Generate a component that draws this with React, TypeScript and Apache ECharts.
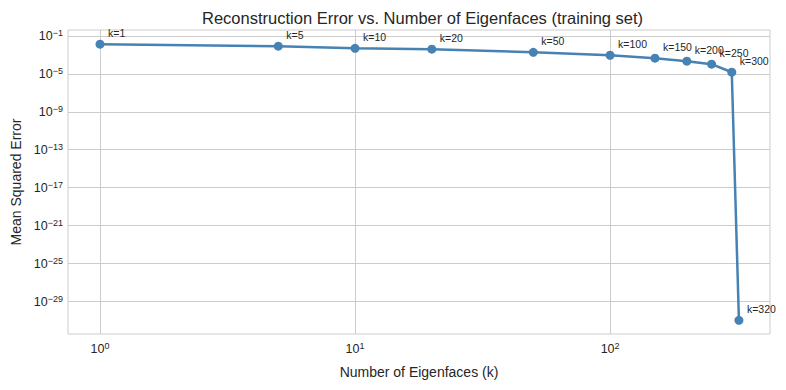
import React, { useEffect, useRef } from "react";
import * as echarts from "echarts";

const ks: number[] = [1, 5, 10, 20, 50, 100, 150, 200, 250, 300, 320];
const mse: number[] = [1.35e-2, 8.3e-3, 5.0e-3, 4.0e-3, 1.9e-3, 9.3e-4, 4.5e-4, 2.2e-4, 1.05e-4, 1.5e-5, 1.0e-31];
const xTickExps: number[] = [0, 1, 2];
const yTickExps: number[] = [-29, -25, -21, -17, -13, -9, -5, -1];

const TITLE = "Reconstruction Error vs. Number of Eigenfaces (training set)";
const X_NAME = "Number of Eigenfaces (k)";
const Y_NAME = "Mean Squared Error";

const FONT = "'Liberation Sans', Arial, Helvetica, sans-serif";
const TXT = "#262626";

const powLabel = (v: number) => {
  const e = Math.round(v);
  const s = e < 0 ? "\u2212" + Math.abs(e) : String(e);
  return `{b|10}{e|${s}}`;
};

const rich = {
  b: { fontSize: 12.5, fontFamily: FONT, color: TXT, verticalAlign: "bottom", lineHeight: 14, padding: [5, 0, 0, 0] },
  e: { fontSize: 9, fontFamily: FONT, color: TXT, verticalAlign: "top", lineHeight: 10 },
};

export default function App() {
  const ref = useRef<HTMLDivElement>(null);
  useEffect(() => {
    if (!ref.current) return;
    const chart = echarts.init(ref.current, undefined, { renderer: "svg" });
    const data = ks.map((k, i) => [Math.log10(k), Math.log10(mse[i])]);
    chart.setOption({
      animation: false,
      backgroundColor: "#ffffff",
      textStyle: { fontFamily: FONT },
      title: {
        text: TITLE,
        left: 197,
        top: 4,
        textStyle: { fontSize: 16.5, fontWeight: "normal", color: TXT, fontFamily: FONT },
      },
      grid: {
        left: 68,
        right: 16,
        top: 30,
        bottom: 56,
        show: true,
        borderColor: "#cccccc",
        borderWidth: 1,
        containLabel: false,
      },
      xAxis: {
        type: "value",
        min: -0.1255,
        max: 2.627,
        name: X_NAME,
        nameLocation: "middle",
        nameGap: 31,
        nameTextStyle: { fontSize: 14, color: TXT, fontFamily: FONT },
        axisLine: { show: false },
        axisTick: { show: false, customValues: xTickExps },
        axisLabel: { customValues: xTickExps, formatter: powLabel, rich, margin: 7 },
        splitLine: { show: true, lineStyle: { color: "#cccccc", width: 1 } },
      },
      yAxis: {
        type: "value",
        min: -32.44,
        max: -0.37,
        name: Y_NAME,
        nameLocation: "middle",
        nameGap: 44,
        nameTextStyle: { fontSize: 14, color: TXT, fontFamily: FONT },
        axisLine: { show: false },
        axisTick: { show: false, customValues: yTickExps },
        axisLabel: { customValues: yTickExps, formatter: powLabel, rich, margin: 5 },
        splitLine: { show: true, lineStyle: { color: "#cccccc", width: 1 } },
      },
      series: [
        {
          type: "line",
          data,
          symbol: "circle",
          symbolSize: 9,
          lineStyle: { color: "#4682b4", width: 2.5 },
          itemStyle: { color: "#4682b4" },
          label: {
            show: true,
            position: "right",
            distance: 3.5,
            offset: [0, -11],
            fontSize: 10.5,
            color: TXT,
            fontFamily: FONT,
            formatter: (p: any) => "k=" + ks[p.dataIndex],
          },
          z: 3,
        },
      ],
    });
    return () => chart.dispose();
  }, []);
  return <div ref={ref} style={{ width: 786, height: 390, position: "absolute", left: 0, top: 0 }} />;
}
